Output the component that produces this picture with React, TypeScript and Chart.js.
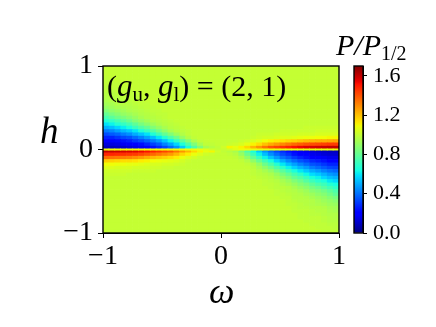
import React, { useEffect, useRef } from "react";
import { Chart, registerables } from "chart.js";

Chart.register(...registerables);

const SERIF = '"Liberation Serif"';

const omegaCenters = [
  -0.975, -0.925, -0.875, -0.825, -0.775, -0.725, -0.675, -0.625, -0.575, -0.525,
  -0.475, -0.425, -0.375, -0.325, -0.275, -0.225, -0.175, -0.125, -0.075, -0.025,
  0.025, 0.075, 0.125, 0.175, 0.225, 0.275, 0.325, 0.375, 0.425, 0.475,
  0.525, 0.575, 0.625, 0.675, 0.725, 0.775, 0.825, 0.875, 0.925, 0.975,
];

// row edges in h, top to bottom
const hEdges = [
  1, 0.96, 0.92, 0.88, 0.84, 0.8, 0.76, 0.72, 0.68, 0.64, 0.6, 0.56, 0.52, 0.48, 0.44, 0.4, 0.36,
  0.32, 0.28, 0.24, 0.2, 0.16, 0.12, 0.08, 0.04, 0, -0.04, -0.08, -0.12, -0.16, -0.2,
  -0.24, -0.28, -0.32, -0.36, -0.4, -0.44, -0.48, -0.52, -0.56, -0.6, -0.64, -0.68, -0.72, -0.76,
  -0.8, -0.84, -0.88, -0.92, -0.96, -1,
];

const calm = [98, 98, 98, 98, 98, 98, 98, 98, 98, 98, 98, 98, 98, 98, 98, 98, 98, 98, 98, 98];

// P / P_1/2 in hundredths, one list per row, top to bottom
const heat: number[][] = [
  [...calm, ...calm],
  [...calm, ...calm],
  [...calm, ...calm],
  [97, ...calm.slice(1), ...calm],
  [97, 97, ...calm.slice(2), ...calm],
  [97, 97, 97, ...calm.slice(3), ...calm],
  [96, 97, 97, 97, ...calm.slice(4), ...calm],
  [96, 96, 97, 97, 97, ...calm.slice(5), ...calm],
  [95, 95, 96, 97, 97, 97, ...calm.slice(6), ...calm],
  [94, 95, 95, 96, 97, 97, 97, ...calm.slice(7), ...calm],
  [93, 94, 95, 95, 96, 97, 97, ...calm.slice(7), ...calm],
  [91, 92, 94, 95, 95, 96, 97, 97, ...calm.slice(8), ...calm],
  [88, 90, 92, 93, 94, 95, 96, 97, 97, ...calm.slice(9), ...calm],
  [84, 87, 89, 91, 93, 94, 95, 96, 97, 97, ...calm.slice(10), ...calm],
  [78, 82, 85, 88, 90, 92, 94, 95, 96, 97, 97, ...calm.slice(11), ...calm],
  [72, 76, 80, 83, 86, 89, 92, 94, 95, 96, 97, ...calm.slice(11), ...calm],
  [65, 68, 72, 76, 80, 85, 88, 91, 94, 95, 96, 97, ...calm.slice(12), ...calm],
  [57, 60, 65, 68, 72, 77, 82, 86, 90, 93, 95, 96, 97, ...calm.slice(13), ...calm],
  [49, 51, 55, 59, 63, 69, 74, 78, 84, 88, 92, 95, 96, 97, 98, 98, 98, 98, 98, 98, 98, 98, 98, 98, 98, 98, 98, 98, 98, 98, 98, 98, 98, 98, 99, 99, 99, 99, 99, 99],
  [40, 42, 46, 50, 53, 58, 64, 69, 75, 81, 87, 92, 95, 96, 97, 98, 98, 98, 98, 98, 98, 98, 98, 98, 98, 98, 98, 98, 98, 98, 99, 99, 99, 99, 99, 99, 100, 100, 100, 100],
  [32, 34, 36, 40, 43, 48, 52, 57, 64, 71, 78, 84, 90, 94, 97, 98, 98, 98, 98, 98, 98, 98, 98, 98, 98, 98, 99, 99, 99, 100, 100, 100, 100, 101, 101, 101, 102, 102, 102, 102],
  [25, 25, 28, 31, 33, 37, 41, 46, 51, 58, 65, 73, 80, 88, 94, 97, 98, 98, 98, 98, 98, 98, 98, 98, 98, 99, 100, 101, 101, 102, 103, 103, 104, 105, 106, 106, 107, 107, 108, 108],
  [17, 18, 20, 22, 24, 28, 31, 35, 40, 45, 52, 60, 68, 77, 85, 93, 97, 98, 98, 98, 98, 98, 98, 99, 100, 102, 104, 107, 109, 111, 112, 114, 115, 117, 119, 120, 121, 121, 122, 123],
  [12, 12, 13, 15, 16, 19, 21, 25, 30, 34, 41, 47, 55, 64, 74, 84, 92, 97, 97, 98, 98, 99, 100, 102, 105, 109, 113, 118, 122, 125, 128, 131, 134, 136, 138, 139, 140, 141, 142, 142],
  [7, 7, 8, 9, 11, 13, 15, 17, 22, 26, 31, 37, 44, 53, 63, 74, 84, 92, 95, 97, 100, 108, 105, 109, 114, 120, 126, 132, 138, 141, 144, 147, 150, 152, 154, 155, 156, 157, 158, 158],
  [158, 158, 157, 156, 155, 154, 152, 150, 147, 144, 141, 138, 132, 126, 120, 114, 109, 105, 108, 100, 97, 95, 92, 84, 74, 63, 53, 44, 37, 31, 26, 22, 17, 15, 13, 11, 9, 8, 7, 7],
  [146, 146, 145, 144, 143, 142, 140, 137, 134, 131, 128, 125, 120, 114, 110, 106, 103, 100, 99, 98, 98, 97, 95, 89, 80, 70, 60, 51, 43, 37, 31, 27, 22, 19, 17, 14, 13, 11, 10, 10],
  [133, 132, 131, 130, 129, 127, 125, 122, 119, 117, 115, 113, 110, 106, 103, 101, 99, 98, 98, 98, 98, 98, 97, 94, 87, 78, 69, 60, 52, 45, 38, 34, 29, 25, 22, 19, 18, 16, 14, 14],
  [116, 115, 114, 113, 113, 112, 110, 109, 107, 106, 105, 104, 103, 101, 99, 98, 98, 98, 98, 98, 98, 98, 98, 97, 94, 87, 79, 71, 63, 55, 48, 42, 37, 33, 30, 26, 24, 22, 19, 19],
  [107, 107, 106, 106, 105, 105, 104, 103, 102, 102, 101, 101, 100, 99, 98, 98, 98, 98, 98, 98, 98, 98, 98, 98, 97, 94, 88, 80, 73, 65, 58, 51, 46, 41, 37, 33, 31, 28, 25, 25],
  [103, 103, 102, 102, 102, 101, 101, 101, 100, 100, 99, 99, 98, 98, 98, 98, 98, 98, 98, 98, 98, 98, 98, 98, 98, 96, 92, 87, 81, 74, 67, 60, 54, 49, 45, 40, 37, 34, 31, 30],
  [100, 100, 100, 100, 100, 99, 99, 99, 99, 98, 98, 98, 98, 98, 98, 98, 98, 98, 98, 98, 98, 98, 98, 98, 98, 97, 95, 92, 88, 82, 76, 70, 63, 58, 53, 48, 45, 41, 38, 36],
  [99, 99, 99, 99, 98, 98, 98, 98, 98, 98, 98, 98, 98, 98, 98, 98, 98, 98, 98, 98, 98, 98, 98, 98, 98, 97, 96, 95, 93, 89, 83, 78, 72, 67, 61, 56, 53, 49, 45, 43],
  [...calm, 98, 98, 98, 98, 98, 98, 97, 96, 95, 92, 88, 84, 78, 74, 69, 63, 60, 55, 51, 49],
  [...calm, 98, 98, 98, 98, 98, 98, 98, 97, 96, 95, 92, 89, 84, 80, 75, 70, 66, 63, 58, 55],
  [...calm, 98, 98, 98, 98, 98, 98, 98, 97, 97, 96, 94, 92, 89, 85, 82, 77, 73, 70, 65, 62],
  [...calm, 98, 98, 98, 98, 98, 98, 98, 98, 97, 96, 96, 95, 92, 89, 86, 82, 79, 75, 71, 67],
  [...calm, 98, 98, 98, 98, 98, 98, 98, 98, 98, 97, 96, 95, 94, 92, 90, 86, 84, 81, 77, 73],
  [...calm, 98, 98, 98, 98, 98, 98, 98, 98, 98, 97, 97, 96, 95, 94, 92, 90, 87, 85, 81, 77],
  [...calm, 98, 98, 98, 98, 98, 98, 98, 98, 98, 98, 97, 97, 95, 95, 94, 92, 90, 88, 85, 82],
  [...calm, 98, 98, 98, 98, 98, 98, 98, 98, 98, 98, 98, 97, 96, 95, 95, 94, 92, 90, 88, 86],
  [...calm, 98, 98, 98, 98, 98, 98, 98, 98, 98, 98, 98, 97, 97, 96, 95, 94, 93, 92, 90, 89],
  [...calm, 98, 98, 98, 98, 98, 98, 98, 98, 98, 98, 98, 98, 97, 96, 96, 95, 95, 94, 92, 91],
  [...calm, 98, 98, 98, 98, 98, 98, 98, 98, 98, 98, 98, 98, 97, 97, 97, 96, 95, 95, 93, 92],
  [...calm, 98, 98, 98, 98, 98, 98, 98, 98, 98, 98, 98, 98, 98, 97, 97, 96, 96, 95, 94, 94],
  [...calm, 98, 98, 98, 98, 98, 98, 98, 98, 98, 98, 98, 98, 98, 97, 97, 97, 97, 96, 95, 94],
  [...calm, 98, 98, 98, 98, 98, 98, 98, 98, 98, 98, 98, 98, 98, 98, 97, 97, 97, 96, 95, 95],
  [...calm, 98, 98, 98, 98, 98, 98, 98, 98, 98, 98, 98, 98, 98, 98, 98, 97, 97, 97, 96, 96],
  [...calm, 98, 98, 98, 98, 98, 98, 98, 98, 98, 98, 98, 98, 98, 98, 98, 98, 97, 97, 97, 96],
  [...calm, 98, 98, 98, 98, 98, 98, 98, 98, 98, 98, 98, 98, 98, 98, 98, 98, 98, 97, 97, 97],
];

// the thin line that sits exactly on h = 0, drawn over the two rows it separates
const zeroLine = [107, 107, 107, 107, 107, 107, 107, 107, 107, 107, 107, 107, 107, 107, 107, 107, 106, 104, 100, 98, 98, 100, 104, 106, 106, 106, 106, 106, 106, 106, 106, 106, 106, 106, 106, 106, 106, 106, 106, 106];
const zeroLineEdges = [-0.008, 0.008];

// small shift of the whole reading so that the background lands on the reference's yellow-green
const readingOffset = 2;

const mainTicks = [-1, 0, 1];
const barTicks = [0, 0.4, 0.8, 1.2, 1.6];
const barRange = [0, 1.7];

// matplotlib "jet" colormap breakpoints
const jetR = [[0, 0], [0.35, 0], [0.66, 1], [0.89, 1], [1, 0.5]];
const jetG = [[0, 0], [0.125, 0], [0.375, 1], [0.64, 1], [0.91, 0], [1, 0]];
const jetB = [[0, 0.5], [0.11, 1], [0.34, 1], [0.65, 0], [1, 0]];

function lookup(table: number[][], t: number) {
  for (let i = 1; i < table.length; i++) {
    if (t <= table[i][0]) {
      const [a, va] = table[i - 1];
      const [b, vb] = table[i];
      return va + ((vb - va) * (t - a)) / (b - a);
    }
  }
  return table[table.length - 1][1];
}

function jet(t: number) {
  const c = Math.max(0, Math.min(1, t));
  const ch = (tb: number[][]) => Math.round(lookup(tb, c) * 255);
  return `rgb(${ch(jetR)},${ch(jetG)},${ch(jetB)})`;
}

const cellColor = (v: number) => jet((v + readingOffset) / 100 / barRange[1]);

type Run = { t: string; font: string; dy?: number };

function drawRuns(ctx: CanvasRenderingContext2D, x: number, y: number, runs: Run[]) {
  ctx.save();
  ctx.fillStyle = "#000";
  ctx.textAlign = "left";
  ctx.textBaseline = "alphabetic";
  let cx = x;
  for (const r of runs) {
    ctx.font = r.font;
    ctx.fillText(r.t, cx, y + (r.dy ?? 0));
    cx += ctx.measureText(r.t).width;
  }
  ctx.restore();
}

const frame = {
  id: "frame",
  afterDatasetsDraw(chart: any) {
    const { ctx, chartArea: a } = chart;
    ctx.save();
    ctx.strokeStyle = "#000";
    ctx.lineWidth = 1.4;
    ctx.strokeRect(a.left, a.top, a.right - a.left, a.bottom - a.top);
    ctx.restore();
  },
};

const mainLabels = {
  id: "mainLabels",
  afterDraw(chart: any) {
    const { ctx } = chart;
    const rom = `30px ${SERIF}`;
    const ita = `italic 31px ${SERIF}`;
    const sub = `21px ${SERIF}`;
    const x0 = chart.scales.x.getPixelForValue(-1) + 4;
    const y0 = chart.scales.y.getPixelForValue(0.64);
    drawRuns(ctx, x0, y0, [
      { t: "(", font: rom },
      { t: "g", font: ita },
      { t: "u", font: sub, dy: 5 },
      { t: ", ", font: rom },
      { t: "g", font: ita },
      { t: "l", font: sub, dy: 5 },
      { t: ") = (2, 1)", font: rom },
    ]);
    drawRuns(ctx, 40, 143, [{ t: "h", font: `italic 37px ${SERIF}` }]);
    drawRuns(ctx, 209, 303, [{ t: "ω", font: `italic 36px ${SERIF}` }]);
  },
};

const barLabels = {
  id: "barLabels",
  afterDraw(chart: any) {
    drawRuns(chart.ctx, 336, 55, [
      { t: "P", font: `italic 30px ${SERIF}` },
      { t: "/", font: `italic 30px ${SERIF}` },
      { t: "P", font: `italic 30px ${SERIF}` },
      { t: "1/2", font: `20px ${SERIF}`, dy: 5 },
    ]);
  },
};

const fixedTicks = (list: number[]) => (scale: any) => {
  scale.ticks = list.map((value) => ({ value }));
};

export default function App() {
  const mainRef = useRef<HTMLCanvasElement>(null);
  const barRef = useRef<HTMLCanvasElement>(null);

  useEffect(() => {
    const cellStyle = { borderWidth: 0, grouped: false, barPercentage: 1, categoryPercentage: 1 };
    const datasets = heat.map((row, r) => ({
      data: row.map((v, c) => ({ x: omegaCenters[c], y: [hEdges[r + 1], hEdges[r]] })),
      backgroundColor: row.map(cellColor),
      ...cellStyle,
    }));
    datasets.push({
      data: zeroLine.map((v, c) => ({ x: omegaCenters[c], y: zeroLineEdges })),
      backgroundColor: zeroLine.map(cellColor),
      ...cellStyle,
    });
    // Chart.js paints lower dataset indexes on top, so the line is listed first
    datasets.reverse();
    const tickStyle = { color: "#000", font: { family: SERIF, size: 28 } };
    const mainChart = new Chart(mainRef.current!, {
      type: "bar",
      data: { datasets } as any,
      plugins: [frame, mainLabels],
      options: {
        animation: false,
        responsive: false,
        layout: { padding: { top: 66, right: 97, left: 0, bottom: 0 } },
        plugins: { legend: { display: false }, tooltip: { enabled: false } },
        scales: {
          x: {
            type: "linear",
            min: -1,
            max: 1,
            offset: false,
            afterBuildTicks: fixedTicks(mainTicks),
            afterFit: (s: any) => { s.height = 94; },
            grid: { offset: false, drawOnChartArea: false, color: "#000", tickLength: 5, tickWidth: 1 },
            border: { color: "#000", width: 1 },
            ticks: { ...tickStyle, padding: 2, maxRotation: 0, callback: (v: any) => String(v).replace("-", "−") },
          },
          y: {
            type: "linear",
            min: -1,
            max: 1,
            afterBuildTicks: fixedTicks(mainTicks),
            afterFit: (s: any) => { s.width = 103; },
            grid: { drawOnChartArea: false, color: "#000", tickLength: 5, tickWidth: 1 },
            border: { color: "#000", width: 1 },
            ticks: { ...tickStyle, padding: 5, callback: (v: any) => String(v).replace("-", "−") },
          },
        },
      } as any,
    });

    const barChart = new Chart(barRef.current!, {
      type: "bar",
      data: {
        labels: ["P/P1/2"],
        datasets: [
          {
            data: [barRange],
            borderWidth: 0,
            barPercentage: 1,
            categoryPercentage: 1,
            backgroundColor: (c: any) => {
              const a = c.chart.chartArea;
              if (!a) return "#000";
              const g = c.chart.ctx.createLinearGradient(0, a.bottom, 0, a.top);
              for (let i = 0; i <= 64; i++) g.addColorStop(i / 64, jet(i / 64));
              return g;
            },
          },
        ],
      } as any,
      plugins: [frame, barLabels],
      options: {
        animation: false,
        responsive: false,
        layout: { padding: { top: 66, left: 354, right: 0, bottom: 94 } },
        plugins: { legend: { display: false }, tooltip: { enabled: false } },
        scales: {
          x: { display: false },
          y: {
            type: "linear",
            position: "right",
            min: barRange[0],
            max: barRange[1],
            afterBuildTicks: fixedTicks(barTicks),
            afterFit: (s: any) => { s.width = 73; },
            grid: { drawOnChartArea: false, color: "#000", tickLength: 4, tickWidth: 1 },
            border: { color: "#000", width: 1 },
            ticks: {
              color: "#000",
              font: { family: SERIF, size: 22 },
              padding: 6,
              callback: (v: any) => Number(v).toFixed(1),
            },
          },
        },
      } as any,
    });

    return () => {
      mainChart.destroy();
      barChart.destroy();
    };
  }, []);

  const box: React.CSSProperties = { position: "absolute", left: 0, top: 0 };
  return (
    <div style={{ position: "fixed", left: 0, top: 0, width: 436, height: 327, background: "#fff" }}>
      <canvas ref={mainRef} width={436} height={327} style={box} />
      <canvas ref={barRef} width={436} height={327} style={box} />
    </div>
  );
}
